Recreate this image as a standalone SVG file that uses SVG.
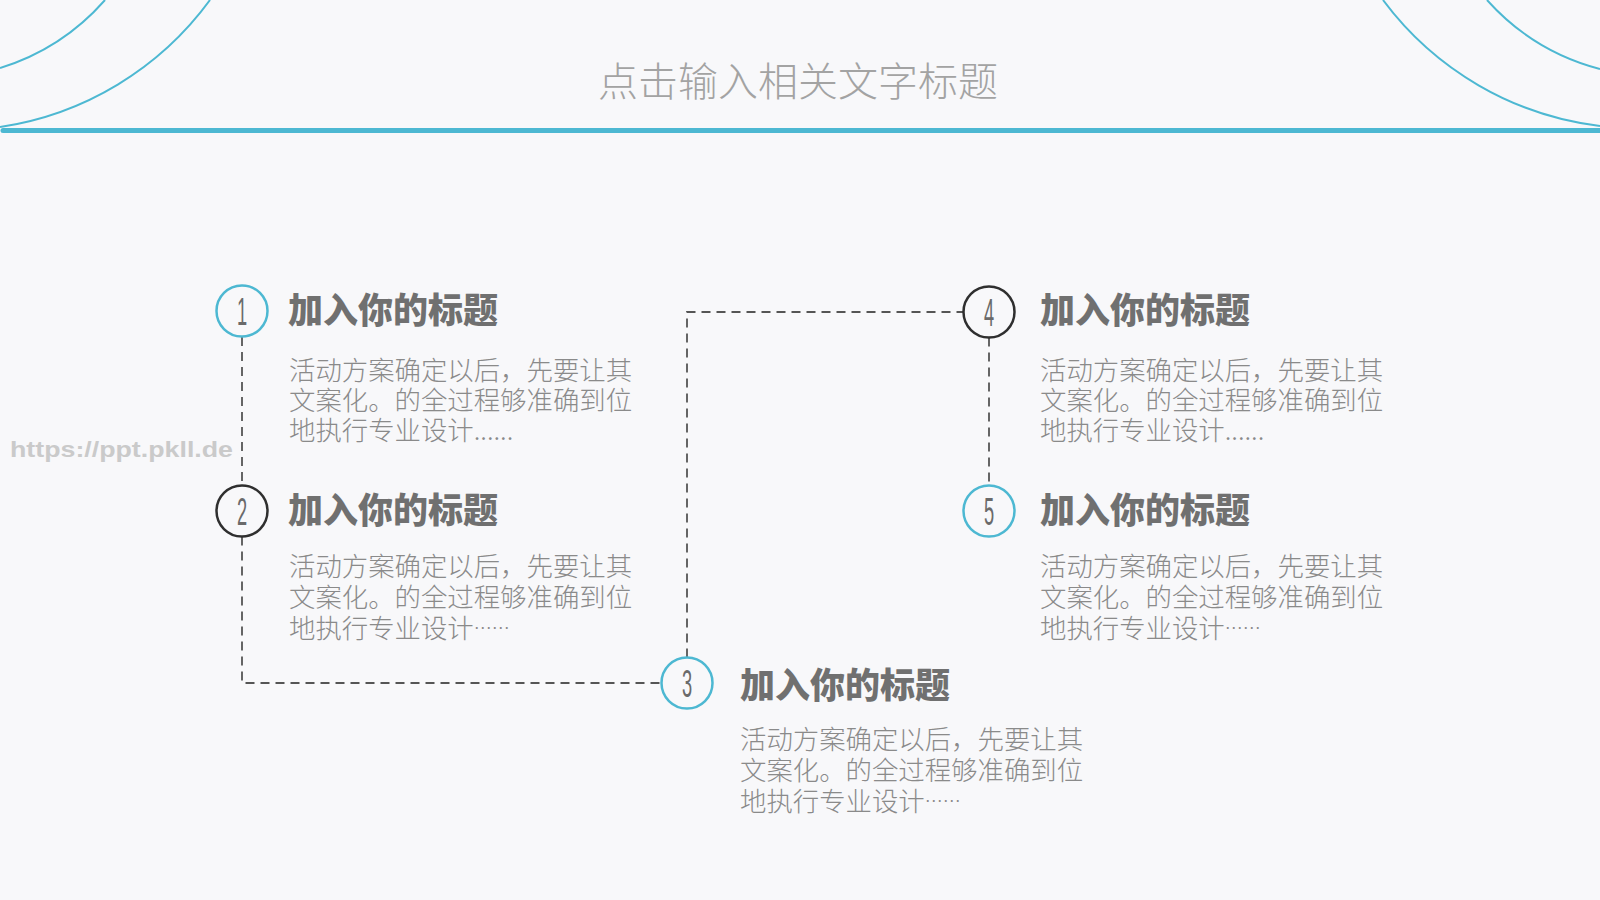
<svg xmlns="http://www.w3.org/2000/svg" width="1600" height="900" viewBox="0 0 1600 900">
<style>
.bg{fill:#f8f8fa}
.deco{fill:none;stroke:#4db8d2;stroke-width:2}
.conn{fill:none;stroke:#555;stroke-width:1.8;stroke-dasharray:9 6}
.ring-b{fill:#f8f8fa;stroke:#4db8d2;stroke-width:2.5}
.ring-d{fill:#f8f8fa;stroke:#2f2f2f;stroke-width:2.5}
.num{font-family:"Liberation Sans Narrow","Liberation Sans",sans-serif;font-size:38px;fill:#6a6a6a;text-anchor:middle}
.ttl{font-family:"Noto Sans CJK SC","Noto Sans",sans-serif;font-size:35px;font-weight:900;fill:#707070}
.body{font-family:"Noto Sans CJK SC","Noto Sans",sans-serif;font-size:26.4px;font-weight:300;fill:#8a8a8a}
.ell{font-size:18px}
.head{font-family:"Noto Sans CJK SC","Noto Sans",sans-serif;font-size:40px;font-weight:300;fill:#a3a3a3;text-anchor:middle}
.wm{font-family:"Liberation Sans",sans-serif;font-size:22px;font-weight:bold;fill:#cacaca}
</style>
<rect class="bg" x="0" y="0" width="1600" height="900"/>
<g id="header">
<path class="deco" d="M0 68 A230 230 0 0 0 105 0"/>
<path class="deco" d="M0 127 A318 318 0 0 0 210 0"/>
<path class="deco" d="M1600 69 A230 230 0 0 1 1487 0"/>
<path class="deco" d="M1600 126 A318 318 0 0 1 1383 0"/>
<line x1="3" y1="130.5" x2="1600" y2="130.5" stroke="#4db8d2" stroke-width="5" stroke-linecap="round"/>
<text class="head" x="798" y="96">点击输入相关文字标题</text>
</g>
<text class="wm" x="10" y="457" textLength="223" lengthAdjust="spacingAndGlyphs">https://ppt.pkll.de</text>
<g id="connectors">
<path class="conn" d="M242 337 V485.5"/>
<path class="conn" d="M242 536.5 V683 H661.5"/>
<path class="conn" d="M687 657.5 V312 H963.5"/>
<path class="conn" d="M989 337.5 V485.5"/>
</g>
<g id="node1">
<circle class="ring-b" cx="242" cy="311" r="25.5"/>
<text class="num" transform="translate(242 324.5) scale(0.48 1)">1</text>
<text class="ttl" x="288" y="323">加入你的标题</text>
<text class="body"><tspan x="289" y="380">活动方案确定以后，先要让其</tspan><tspan x="289" y="410">文案化。的全过程够准确到位</tspan><tspan x="289" y="440">地执行专业设计......</tspan></text>
</g>
<g id="node2">
<circle class="ring-d" cx="242" cy="511" r="25.5"/>
<text class="num" transform="translate(242 524.5) scale(0.48 1)">2</text>
<text class="ttl" x="288" y="523">加入你的标题</text>
<text class="body"><tspan x="289" y="576">活动方案确定以后，先要让其</tspan><tspan x="289" y="607">文案化。的全过程够准确到位</tspan><tspan x="289" y="638">地执行专业设计<tspan class="ell" dy="-3">……</tspan></tspan></text>
</g>
<g id="node3">
<circle class="ring-b" cx="687" cy="683" r="25.5"/>
<text class="num" transform="translate(687 696.5) scale(0.48 1)">3</text>
<text class="ttl" x="740" y="698">加入你的标题</text>
<text class="body"><tspan x="740" y="749">活动方案确定以后，先要让其</tspan><tspan x="740" y="780">文案化。的全过程够准确到位</tspan><tspan x="740" y="811">地执行专业设计<tspan class="ell" dy="-3">……</tspan></tspan></text>
</g>
<g id="node4">
<circle class="ring-d" cx="989" cy="312" r="25.5"/>
<text class="num" transform="translate(989 325.5) scale(0.48 1)">4</text>
<text class="ttl" x="1040" y="323">加入你的标题</text>
<text class="body"><tspan x="1040" y="380">活动方案确定以后，先要让其</tspan><tspan x="1040" y="410">文案化。的全过程够准确到位</tspan><tspan x="1040" y="440">地执行专业设计......</tspan></text>
</g>
<g id="node5">
<circle class="ring-b" cx="989" cy="511" r="25.5"/>
<text class="num" transform="translate(989 524.5) scale(0.48 1)">5</text>
<text class="ttl" x="1040" y="523">加入你的标题</text>
<text class="body"><tspan x="1040" y="576">活动方案确定以后，先要让其</tspan><tspan x="1040" y="607">文案化。的全过程够准确到位</tspan><tspan x="1040" y="638">地执行专业设计<tspan class="ell" dy="-3">……</tspan></tspan></text>
</g>
</svg>
